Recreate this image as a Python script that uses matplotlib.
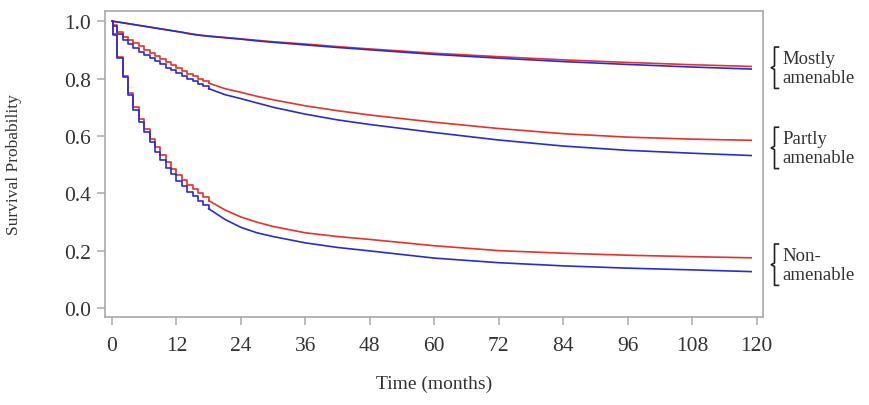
import matplotlib
matplotlib.use("Agg")
import matplotlib.pyplot as plt
from matplotlib.lines import Line2D

# months at which survival estimates are read off the curves
months = [0, 0.25, 1, 2, 3, 4, 5, 6, 7, 8, 9, 10, 11, 12, 13, 14, 15, 16, 17, 18,
          21, 24, 27, 30, 36, 42, 48, 60, 72, 84, 96, 108, 119]
n_step = 20  # monthly steps drawn up to month 18, smooth after

mostly_red = [1.0, 0.999, 0.997, 0.994, 0.991, 0.988, 0.985, 0.982, 0.979, 0.976, 0.973, 0.970, 0.967, 0.964,
              0.961, 0.958, 0.955, 0.952, 0.950, 0.948,
              0.943, 0.938, 0.933, 0.928, 0.920, 0.911, 0.903, 0.888, 0.876, 0.865, 0.856, 0.848, 0.842]
mostly_blue = [1.0, 0.999, 0.997, 0.994, 0.991, 0.988, 0.985, 0.982, 0.979, 0.976, 0.973, 0.970, 0.967, 0.964,
               0.961, 0.957, 0.954, 0.951, 0.949, 0.947,
               0.942, 0.937, 0.931, 0.926, 0.917, 0.908, 0.900, 0.884, 0.871, 0.859, 0.849, 0.840, 0.833]
partly_red = [1.0, 0.985, 0.962, 0.946, 0.935, 0.924, 0.912, 0.900, 0.889, 0.878, 0.867, 0.856, 0.846, 0.836,
              0.826, 0.817, 0.808, 0.800, 0.792, 0.784,
              0.765, 0.752, 0.738, 0.726, 0.705, 0.688, 0.673, 0.648, 0.626, 0.608, 0.596, 0.589, 0.585]
partly_blue = [1.0, 0.982, 0.955, 0.935, 0.919, 0.906, 0.894, 0.882, 0.871, 0.860, 0.849, 0.838, 0.828, 0.818,
               0.808, 0.799, 0.790, 0.781, 0.773, 0.765,
               0.744, 0.730, 0.715, 0.700, 0.676, 0.656, 0.640, 0.612, 0.586, 0.565, 0.550, 0.540, 0.532]
non_red = [1.0, 0.955, 0.875, 0.810, 0.750, 0.700, 0.660, 0.625, 0.590, 0.560, 0.535, 0.508, 0.485, 0.465,
           0.447, 0.430, 0.414, 0.400, 0.387, 0.375,
           0.343, 0.318, 0.300, 0.285, 0.263, 0.250, 0.240, 0.218, 0.201, 0.192, 0.185, 0.180, 0.176]
non_blue = [1.0, 0.952, 0.870, 0.805, 0.742, 0.692, 0.650, 0.613, 0.578, 0.546, 0.518, 0.490, 0.466, 0.445,
            0.425, 0.405, 0.390, 0.375, 0.360, 0.347,
            0.310, 0.282, 0.263, 0.250, 0.228, 0.212, 0.200, 0.175, 0.159, 0.148, 0.140, 0.134, 0.128]

# label, red curve, blue curve, whether the early steps are visible
groups = [("Mostly\namenable", mostly_red, mostly_blue, False),
          ("Partly\namenable", partly_red, partly_blue, True),
          ("Non-\namenable", non_red, non_blue, True)]

RED = "#e8302c"
BLUE = "#2a2ad8"
GREY = "#a8a8a8"
TXT = "#333333"

plt.rcParams['font.family'] = ['Liberation Serif', 'DejaVu Serif']

fig = plt.figure(figsize=(8.69, 4.06), dpi=100)
ax = fig.add_axes([105 / 869, 1 - 318 / 406, 658 / 869, 306 / 406])

for label, red, blue, stepped in groups:
    for vals, col in [(red, RED), (blue, BLUE)]:
        if stepped:
            ax.plot(months[:n_step], vals[:n_step], drawstyle='steps-post', color=col, lw=1.2)
            ax.plot(months[n_step - 1:], vals[n_step - 1:], color=col, lw=1.2)
        else:
            ax.plot(months, vals, color=col, lw=1.2)

    # bracket + label on the right, centred on the end of the curves
    yc = (red[-1] + blue[-1]) / 2
    tr = ax.get_yaxis_transform()
    h = 0.072
    xb = 1.0175
    brace = Line2D([xb + 0.006, xb, xb, xb - 0.005, xb, xb, xb + 0.006],
                   [yc + h, yc + h, yc + 0.006, yc, yc - 0.006, yc - h, yc - h],
                   transform=tr, color="#222222", lw=1.2, clip_on=False)
    ax.add_line(brace)
    ax.text(1.029, yc, label, transform=tr, ha='left', va='center',
            fontsize=13.5, color=TXT, linespacing=1.15)

ax.set_xlim(-1.3, 121.2)
ax.set_ylim(-0.03, 1.035)
ax.set_xticks(range(0, 121, 12))
ax.set_yticks([0.0, 0.2, 0.4, 0.6, 0.8, 1.0])
ax.set_yticklabels(["0.0", "0.2", "0.4", "0.6", "0.8", "1.0"])

for s in ax.spines.values():
    s.set_color(GREY)
    s.set_linewidth(1.2)
ax.tick_params(colors=GREY, labelcolor=TXT, labelsize=15.5, length=6, width=1.1)
ax.tick_params(axis='x', pad=8)
ax.tick_params(axis='y', pad=4)

ax.set_xlabel("Time (months)", fontsize=14, color=TXT, labelpad=14)
ax.set_ylabel("Survival Probability", fontsize=12.5, color=TXT)
ax.yaxis.set_label_coords((22 - 105) / 658, 0.5)

fig.savefig("out.png", dpi=100, facecolor="white")
